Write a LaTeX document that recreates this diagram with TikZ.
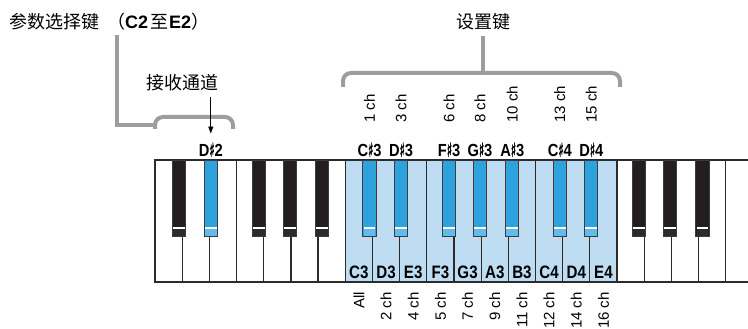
\documentclass[tikz,border=0pt]{standalone}
\usepackage{fontspec}
\setmainfont{Liberation Sans}
\newfontfamily\cjkf{Noto Sans CJK SC}
\newfontfamily\symf[FakeBold=2.5]{DejaVu Sans}
\usetikzlibrary{arrows.meta}
\definecolor{lblue}{HTML}{BEDDF3}
\definecolor{kblue}{HTML}{2EA2DC}
\definecolor{kbluelow}{HTML}{62BBE8}
\definecolor{kblack}{HTML}{231F20}
\definecolor{kblacklow}{HTML}{2E2A2B}
\definecolor{keyline}{HTML}{2B2B2B}
\definecolor{bline}{HTML}{3C3C3C}
\definecolor{brgray}{HTML}{9D9D9D}
\newcommand\shp{{\mdseries\symf\raisebox{-0.3pt}{\scalebox{0.72}[1.1]{♯}}}}
\newcommand\cond[1]{\scalebox{0.84}[1]{#1}}
\begin{document}
\begin{tikzpicture}[x=1pt,y=-1pt,
  wkey/.style={draw=keyline, line width=1.2pt, minimum width=27.18pt, minimum height=122pt, anchor=north west, inner sep=0pt, outer sep=0pt},
  bkey/.style={draw=bline, line width=1pt, minimum width=13.3pt, minimum height=76.7pt, anchor=north, inner sep=0pt, outer sep=0pt},
  brack/.style={draw=brgray, line width=4pt, rounded corners=8pt},
  plainline/.style={draw=brgray, line width=4pt},
  chlab/.style={font=\fontsize{15}{15}\selectfont, inner sep=0pt, rotate=90},
  notelab/.style={font=\bfseries\fontsize{17.5}{17.5}\selectfont, inner sep=0pt, anchor=base},
  keylab/.style={font=\bfseries\fontsize{18}{18}\selectfont, inner sep=0pt, anchor=base},
  cjklab/.style={font=\cjkf\fontsize{18}{18}\selectfont, inner sep=0pt},
  arr/.style={draw=black, line width=0.9pt, -{Triangle[length=7pt,width=5pt]}}]

\path[use as bounding box] (0,0) rectangle (748,329);

\begin{scope}
\clip (0,0) rectangle (748,329);
% white keys
\foreach \i in {0,...,21}{
  \pgfmathsetmacro\xx{155+\i*27.18}
  \def\kc{white}
  \ifnum\i>6 \ifnum\i<17 \def\kc{lblue}\fi\fi
  \node[wkey, fill=\kc] (w\i) at (\xx,160) {};
}
% black keys
\foreach \o in {0,1,2}{
  \foreach \c/\n in {0.894/1,2.053/2,3.819/3,4.956/4,6.144/5}{
    \pgfmathsetmacro\xx{155+(\o*7+\c)*27.18}
    \def\kc{kblack}\def\kb{kblacklow}
    \ifnum\o=1 \def\kc{kblue}\def\kb{kbluelow}\fi
    \ifnum\o=0 \ifnum\n=2 \def\kc{kblue}\def\kb{kbluelow}\fi\fi
    \ifnum\o=2 \ifnum\n<3 \def\kc{kblue}\def\kb{kbluelow}\fi\fi
    \node[bkey, fill=\kc] (b\o\n) at (\xx,160) {};
    \fill[white] (\xx-5.9,226.5) rectangle (\xx+5.9,228.8);
    \fill[\kb] (\xx-5.9,228.8) rectangle (\xx+5.9,235.9);
  }
}
\end{scope}

% channel labels below
\foreach \k/\t in {w7/All, w8/2 ch, w9/4 ch, w10/5 ch, w11/7 ch, w12/9 ch, w13/11 ch, w14/12 ch, w15/14 ch, w16/16 ch}{
  \node[chlab, anchor=east] (d\k) at ([yshift=-10pt]\k.south) {\t};
}

% titles
\node[anchor=base west, inner sep=0pt, font=\fontsize{18}{18}\selectfont] (title1) at (9,29)
  {{\cjkf 参数选择键}\hspace{8pt}{\cjkf （}{\bfseries C2}\hspace{2pt}{\cjkf 至}\hspace{1pt}{\bfseries E2}{\cjkf ）}};
\node[cjklab, anchor=base] (title2) at (483,29) {设置键};
\node[cjklab] (recv) at (182.5,82.5) {接收通道};

% gray brackets
\draw[plainline] (117,35) -- (117,125) -- (155,125);
\draw[brack] (155,129) -- (155,117) -- (233,117) -- (233,129);
\draw[plainline] (483,36) -- (483,73);
\draw[brack] (343,87) -- (343,73) -- (620,73) -- (620,87);

% sharp-key names
\node[notelab] (nD2) at ([yshift=3.5pt]b02.north) {\cond{D\shp2}};
\foreach \k/\t in {b11/C\shp3, b12/D\shp3, b13/F\shp3, b14/G\shp3, b15/A\shp3, b21/C\shp4, b22/D\shp4}{
  \node[notelab] (n\k) at ([yshift=3.5pt]\k.north) {\cond{\t}};
}
% channel labels above
\foreach \k/\t in {b11/1 ch, b12/3 ch, b13/6 ch, b14/8 ch, b15/10 ch, b21/13 ch, b22/15 ch}{
  \node[chlab, anchor=west] (c\k) at ([yshift=37pt]\k.north) {\t};
}
% white key names
\foreach \k/\t in {w7/C3, w8/D3, w9/E3, w10/F3, w11/G3, w12/A3, w13/B3, w14/C4, w15/D4, w16/E4}{
  \node[keylab] (l\k) at ([yshift=3.5pt]\k.south) {\cond{\t}};
}

% arrow
\draw[arr, shorten <=6pt, shorten >=9pt] (recv.south -| nD2.north) -- (nD2.north);
\end{tikzpicture}
\end{document}
